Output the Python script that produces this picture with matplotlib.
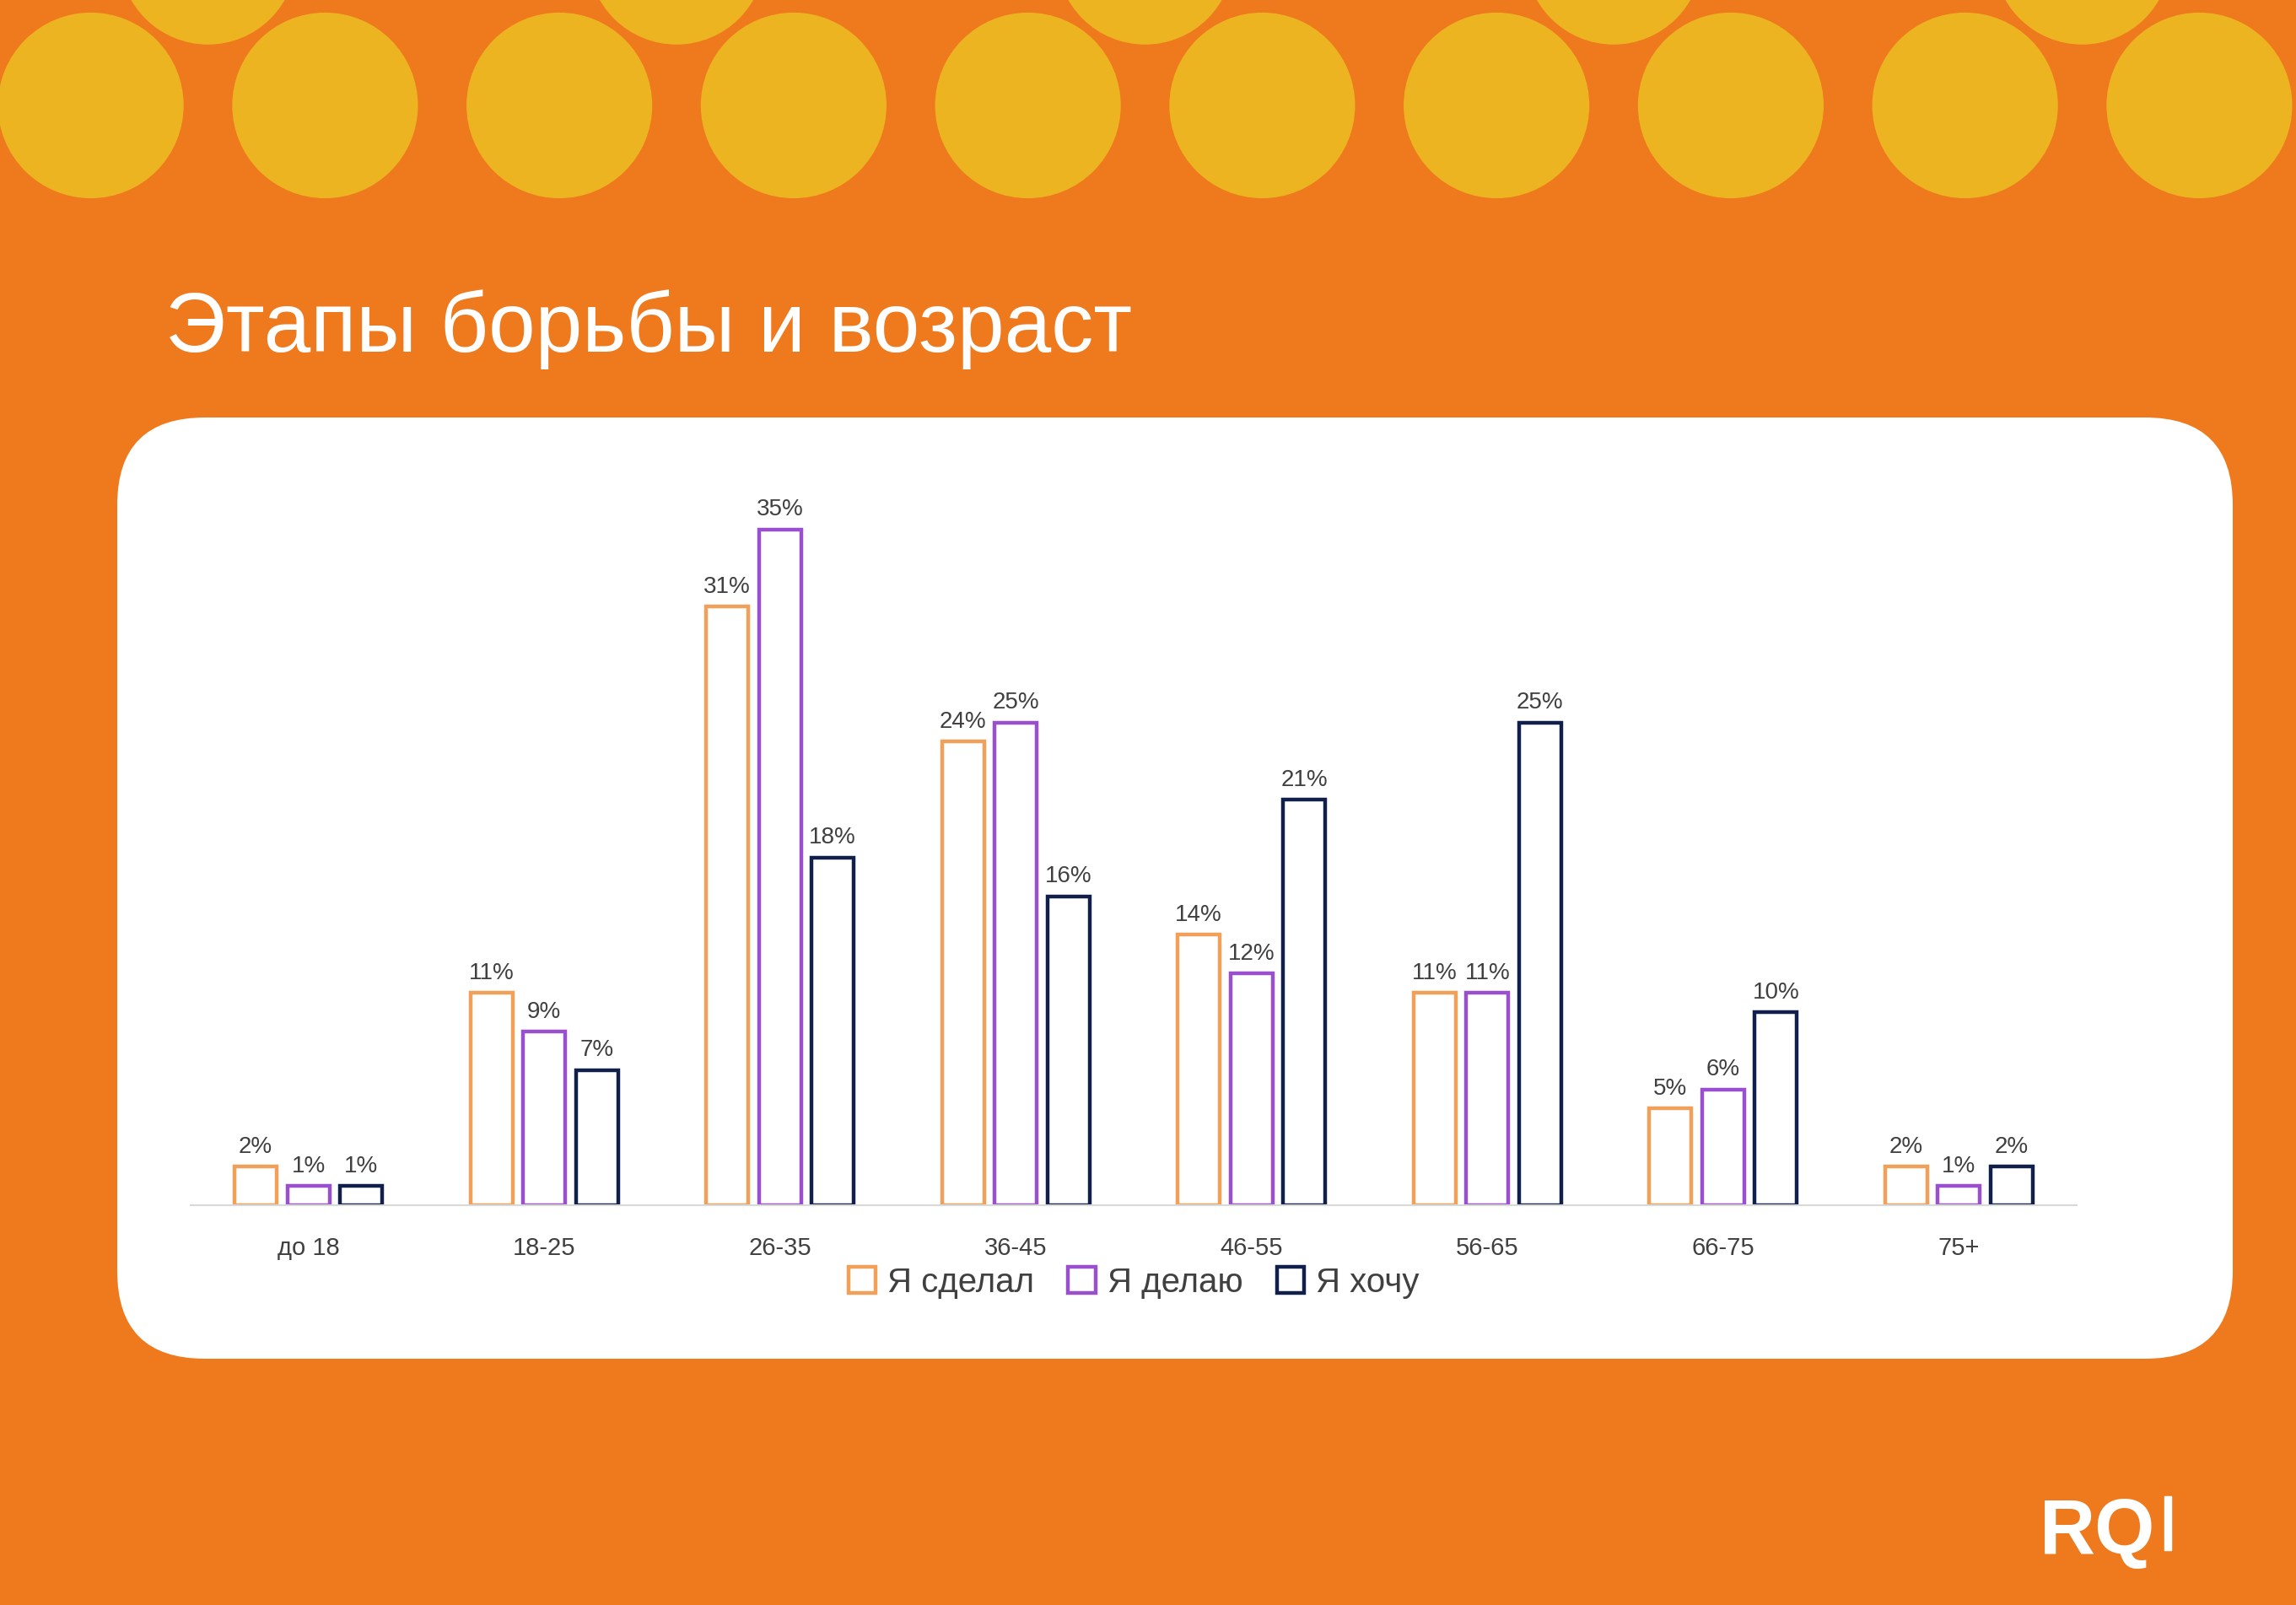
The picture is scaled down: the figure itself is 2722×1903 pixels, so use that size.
import numpy as np
import matplotlib.pyplot as plt
from matplotlib.patches import FancyBboxPatch, Circle, Rectangle

# data
categories = ["до 18", "18-25", "26-35", "36-45", "46-55", "56-65", "66-75", "75+"]
series_names = ["Я сделал", "Я делаю", "Я хочу"]
done = [2, 11, 31, 24, 14, 11, 5, 2]
doing = [1, 9, 35, 25, 12, 11, 6, 1]
want = [1, 7, 18, 16, 21, 25, 10, 2]
colors = ["#F2A057", "#9A4FCF", "#10204A"]

W, H = 2722, 1903
S = W / 1568  # reference thumbnail -> px

fig = plt.figure(figsize=(W / 100, H / 100), dpi=100)

# background slide
bg = fig.add_axes([0, 0, 1, 1])
bg.set_xlim(0, W)
bg.set_ylim(H, 0)
bg.axis("off")
bg.add_patch(Rectangle((0, 0), W, H, color="#EF7A1E", zorder=0))

# yellow blobs on top
yel = "#EDB421"
for cx in range(62, 1600, 160):
    bg.add_patch(Circle((cx * S, 72 * S), 63 * S, color=yel, zorder=1))
for cx in range(142, 1600, 320):
    bg.add_patch(Circle((cx * S, -30 * S), 60 * S, color=yel, zorder=1))

# white card
card = FancyBboxPatch((139 + 104, 495 + 104), 2508 - 208, 1116 - 208,
                      boxstyle="round,pad=104", fc="white", ec="none", zorder=2)
bg.add_patch(card)

bg.text(113 * S, 240 * S, "Этапы борьбы и возраст", color="white",
        fontsize=72, family="Liberation Sans", va="baseline", ha="left", zorder=3)
bg.text(1393 * S, 1061 * S, "RQ", color="white", fontsize=66, fontweight="bold",
        family="Liberation Sans", va="baseline", ha="left", zorder=3)
bg.add_patch(Rectangle((1478 * S, 1022 * S), 5 * S, 37 * S, color="white", zorder=3))

# chart
ax = fig.add_axes([0.0830, 0.2491, 0.8215, 0.4813])
ax.set_xlim(-0.5, 7.5)
ax.set_ylim(0, 40)
x = np.arange(len(categories))
off = 36 / 161
bw = 29 / 161
for k, (vals, c, name) in enumerate(zip([done, doing, want], colors, series_names)):
    pos = x + (k - 1) * off
    ax.bar(pos, vals, width=bw, facecolor="white", edgecolor=c, linewidth=3.2, label=name)
    for p, v in zip(pos, vals):
        ax.text(p, v + 0.45, f"{v}%", ha="center", va="bottom", fontsize=20,
                color="#404040", family="Liberation Sans")

for side in ["top", "right", "left"]:
    ax.spines[side].set_visible(False)
ax.spines["bottom"].set_color("#D9D9D9")
ax.spines["bottom"].set_linewidth(1.5)
ax.set_yticks([])
ax.set_xticks(x)
ax.set_xticklabels(categories, fontsize=21, color="#404040", family="Liberation Sans")
ax.tick_params(axis="x", length=0, pad=27)
ax.set_facecolor("none")

leg = ax.legend(loc="upper center", bbox_to_anchor=(0.5, -0.04), ncol=3, frameon=False,
                prop={"family": "Liberation Sans", "size": 29}, handlelength=0.8,
                handleheight=0.8, handletextpad=0.35, columnspacing=1.0)
for t in leg.get_texts():
    t.set_color("#404040")

fig.savefig("out.png", dpi=100)
